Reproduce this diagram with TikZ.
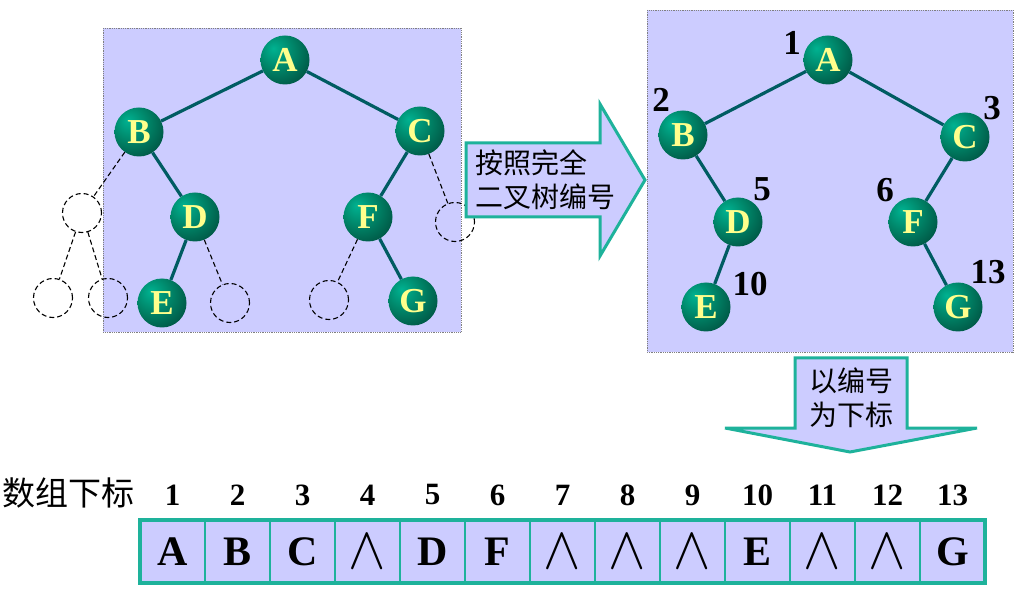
\documentclass[tikz,border=0pt]{standalone}
\usepackage{fontspec}
\setmainfont{Liberation Serif}
\newfontfamily\cjk{Noto Sans CJK SC}
\usetikzlibrary{positioning}
\usetikzlibrary{calc}
\definecolor{lav}{RGB}{204,204,255}
\definecolor{arrteal}{RGB}{30,178,155}
\definecolor{edgec}{RGB}{0,92,98}
\definecolor{ballhi}{RGB}{0,178,145}
\definecolor{ballmid}{RGB}{0,128,100}
\definecolor{balldk}{RGB}{0,62,50}
\definecolor{lettery}{RGB}{255,255,140}
\pgfdeclareradialshading{greenball}{\pgfpoint{-12bp}{12bp}}{color(0bp)=(ballhi); color(20bp)=(ballmid); color(45bp)=(balldk); color(80bp)=(balldk)}
\newcommand{\nil}{\fontsize{20}{20}\selectfont\scalebox{2.7}[2.9]{$\wedge$}}
\tikzset{
    tnode/.style={circle, shading=greenball, minimum size=49pt, inner sep=0pt, text=lettery, font=\fontsize{35}{35}\selectfont\bfseries},
    enode/.style={circle, draw=black, dash pattern=on 5pt off 3pt, line width=1.1pt, minimum size=39pt, inner sep=0pt},
    tedge/.style={draw=edgec, line width=3.2pt},
    dedge/.style={draw=black, dash pattern=on 5pt off 3pt, line width=1.1pt},
    panel/.style={fill=lav, draw=gray, densely dotted, line width=0.8pt},
    blockarrow/.style={fill=lav, draw=arrteal, line width=3pt, line join=miter},
    cell/.style={draw=arrteal, fill=lav, line width=2.5pt, minimum width=65pt, minimum height=63pt, inner sep=0pt, outer sep=0pt},
    numlab/.style={font=\fontsize{35}{35}\selectfont\bfseries},
    cjklab/.style={font=\cjk\fontsize{28}{34}\selectfont}
}

\begin{document}
\begin{tikzpicture}[x=1pt, y=-1pt]
    \useasboundingbox (0,0) rectangle (1025,593);

    % left tree
    \draw[panel] (103,28) rectangle (461,332);
    \node[tnode] (A) at (285,60) {A};
    \node[tnode] (B) at (139,132) {B};
    \node[tnode] (C) at (420,131) {C};
    \node[tnode] (D) at (195,217) {D};
    \node[tnode] (F) at (368,217) {F};
    \node[tnode] (E) at (162,303) {E};
    \node[tnode] (G) at (413,301) {G};
    \node[enode] (eB) at (82,213) {};
    \node[enode] (eB1) at (53,298) {};
    \node[enode] (eB2) at (108,298) {};
    \node[enode] (eD) at (230,303) {};
    \node[enode] (eF) at (329,300) {};
    \node[enode] (eC) at (455,222) {};
    \foreach \p/\c in {A/B, A/C, B/D, D/E, C/F, F/G}
        \draw[tedge] (\p) -- (\c);
    \foreach \p/\c in {B/eB, eB/eB1, eB/eB2, D/eD, F/eF, C/eC}
        \draw[dedge] (\p) -- (\c);

    % numbering arrow
    \draw[blockarrow] (466,143) -- (600,143) -- (600,104) -- (645,180) -- (600,256) -- (600,217) -- (466,217) -- cycle;
    \node[cjklab, anchor=west, align=left] (num) at (472,180) {按照完全\\二叉树编号};

    % right tree
    \draw[panel] (647,10) rectangle (1013,352);
    \node[tnode] (rA) at (828,60) {A};
    \node[tnode] (rB) at (683,135) {B};
    \node[tnode] (rC) at (965,137) {C};
    \node[tnode] (rD) at (738,222) {D};
    \node[tnode] (rF) at (913,222) {F};
    \node[tnode] (rE) at (706,307) {E};
    \node[tnode] (rG) at (958,307) {G};
    \foreach \p/\c in {rA/rB, rA/rC, rB/rD, rD/rE, rC/rF, rF/rG}
        \draw[tedge] (\p) -- (\c);
    \foreach \n/\x/\y in {1/792/43, 2/661/100, 3/992/108, 5/762/189, 6/885/190, 10/750/284, 13/988/272}
        \node[numlab] (n\n) at (\x,\y) {\n};

    % index arrow
    \draw[blockarrow] (795,358) -- (907,358) -- (907,428) -- (977,428) -- (850,452) -- (725,428) -- (795,428) -- cycle;
    \node[cjklab, align=center] (idx) at (851,398) {以编号\\为下标};

    % array
    \node[font=\cjk\fontsize{33}{33}\selectfont, anchor=west] (title) at (-1,493) {数组下标};
    \foreach \i/\v in {1/A, 2/B, 3/C, 4/\nil, 5/D, 6/F, 7/\nil, 8/\nil, 9/\nil, 10/E, 11/\nil, 12/\nil, 13/G} {
        \node[cell, font=\fontsize{42}{42}\selectfont\bfseries] (c\i) at ({172.5+65*(\i-1)},551.5) {\v};
        \node[font=\fontsize{31}{31}\selectfont\bfseries] (i\i) at ({172.5+65*(\i-1)},495) {\i};
    }
    \draw[draw=arrteal, line width=3.5pt] (c1.north west) rectangle (c13.south east);
\end{tikzpicture}
\end{document}
